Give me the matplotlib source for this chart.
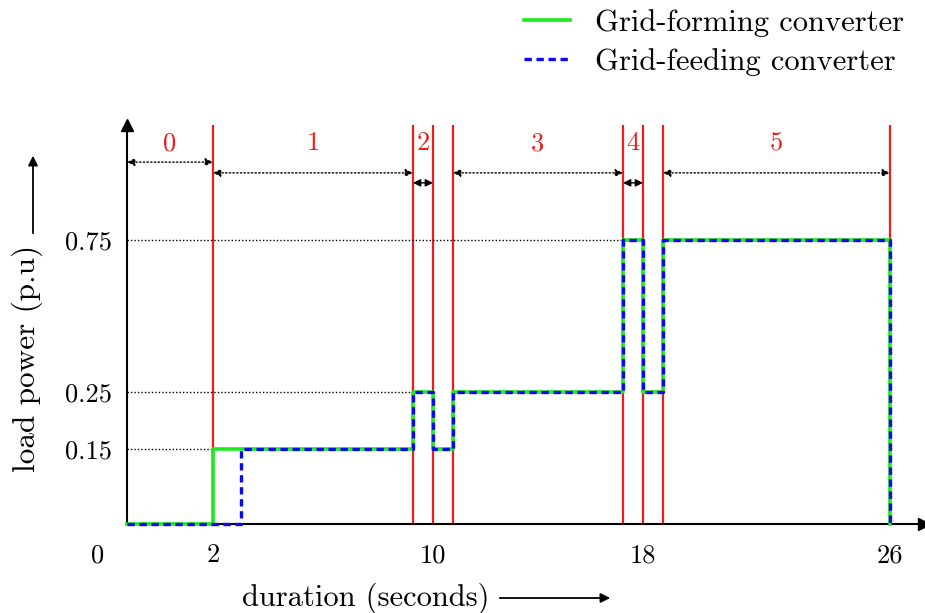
"""Load power steps of grid-forming and grid-feeding converters over the test stages."""

import matplotlib

matplotlib.use("Agg")

import matplotlib.pyplot as plt
import numpy as np
from matplotlib.lines import Line2D

plt.rcParams["font.family"] = "cmr10"
plt.rcParams["mathtext.fontset"] = "cm"
plt.rcParams["axes.formatter.use_mathtext"] = True

# stage boundaries (s) and the load level held after each switching instant
SWITCH_TIMES = [0, 2, 9.6, 10, 10.4, 17.6, 18, 18.4, 26]
LOAD_LEVELS = [0, 0.15, 0.25, 0.15, 0.25, 0.75, 0.25, 0.75, 0]
# the grid-feeding unit picks up the first load step late
FEEDING_TIMES = [0, 3.05, 9.6, 10, 10.4, 17.6, 18, 18.4, 26]

STAGE_LABELS = ["0", "1", "2", "3", "4", "5"]
STAGE_SPANS = [(0, 2), (2, 9.6), (9.6, 10), (10.4, 17.6), (17.6, 18), (18.4, 26)]
STAGE_BOUNDS = [2, 9.6, 10, 10.4, 17.6, 18, 18.4, 26]

X_TICKS = [2, 10, 18, 26]
X_TICK_LABELS = ["2", "10", "18", "26"]
Y_TICKS = [0.15, 0.25, 0.75]
Y_TICK_LABELS = ["0.15", "0.25", "0.75"]
# reference levels and the time at which each is first reached
GUIDE_LEVELS = [0.15, 0.25, 0.75]
GUIDE_ENDS = [2, 9.6, 17.6]

# compressed (schematic) axes: short transients get widened
X_KNOTS_T = np.array([-10, 0, 2, 9.6, 10.4, 17.6, 18.4, 26, 40])
X_KNOTS_P = np.array([-303, 127, 213, 413, 453, 623, 663, 890, 1308])
Y_KNOTS_V = np.array([-1, 0, 0.15, 0.25, 0.75, 1.0, 2])
Y_KNOTS_P = np.array([-500, 0, 75, 132, 284, 399, 900])

GREEN = "#1ee81e"
BLUE = "#0a0af0"
RED = "#ee1c1c"


def fwd_x(t):
    return np.interp(t, X_KNOTS_T, X_KNOTS_P)


def inv_x(p):
    return np.interp(p, X_KNOTS_P, X_KNOTS_T)


def fwd_y(v):
    return np.interp(v, Y_KNOTS_V, Y_KNOTS_P)


def inv_y(p):
    return np.interp(p, Y_KNOTS_P, Y_KNOTS_V)


fig = plt.figure(figsize=(9.25, 6.13), dpi=100)
ax = fig.add_axes([127 / 925, 89 / 613, 797 / 925, 399 / 613])
ax.set_xscale("function", functions=(fwd_x, inv_x))
ax.set_yscale("function", functions=(fwd_y, inv_y))
ax.set_xlim(0, inv_x(924))
ax.set_ylim(0, 1.0)

for side in ("top", "right"):
    ax.spines[side].set_visible(False)
for side in ("left", "bottom"):
    ax.spines[side].set_linewidth(1.5)
ax.plot(1, 0, ">k", ms=8, transform=ax.transAxes, clip_on=False)
ax.plot(0, 1, "^k", ms=8, transform=ax.transAxes, clip_on=False)

# stage boundaries
for xb in STAGE_BOUNDS:
    ax.axvline(xb, color=RED, lw=1.6, zorder=1)

# guides to the load levels
for lvl, xe in zip(GUIDE_LEVELS, GUIDE_ENDS):
    ax.hlines(lvl, 0, xe, colors="k", linestyles=(0, (1, 1.5)), lw=1.0, zorder=1)

ax.step(SWITCH_TIMES, LOAD_LEVELS, where="post", color=GREEN, lw=2.6,
        zorder=3, clip_on=False)
ax.step(FEEDING_TIMES, LOAD_LEVELS, where="post", color=BLUE, lw=2.4,
        ls=(0, (2.2, 1.4)), zorder=4, clip_on=False)

ax.set_xticks(X_TICKS, labels=X_TICK_LABELS)
ax.set_yticks(Y_TICKS, labels=Y_TICK_LABELS)
ax.minorticks_off()
ax.tick_params(axis="x", length=0, pad=14, labelsize=19)
ax.tick_params(axis="y", length=0, pad=11, labelsize=19)
ax.annotate("0", xy=(0, 0), xytext=(-21.5, -14), textcoords="offset points",
            ha="center", va="top", fontsize=19)

# stage numbers and their extents
trans = ax.get_xaxis_transform()
for i, (lab, (x0, x1)) in enumerate(zip(STAGE_LABELS, STAGE_SPANS)):
    xm = inv_x((fwd_x(x0) + fwd_x(x1)) / 2)
    ax.text(xm, 0.954, lab, transform=trans, color=RED, fontsize=19,
            ha="center", va="center")
    if i == 0:
        ya, style = 0.907, ":"
    elif x1 - x0 < 1:
        ya, style = 0.855, "-"
    else:
        ya, style = 0.880, ":"
    ax.annotate("", xy=(x1, ya), xytext=(x0, ya), xycoords=trans, textcoords=trans,
                arrowprops=dict(arrowstyle="<|-|>", lw=1.0, ls=style, color="k",
                                shrinkA=0, shrinkB=0, mutation_scale=11))

# axis titles with direction arrows
fig.text(242 / 925, 1 - 598 / 613, "duration (seconds)", fontsize=22,
         ha="left", va="center")
fig.add_artist(matplotlib.patches.FancyArrowPatch(
    (497 / 925, 1 - 598 / 613), (613 / 925, 1 - 598 / 613),
    transform=fig.transFigure, arrowstyle="-|>", mutation_scale=14,
    lw=1.3, color="k"))
fig.text(27 / 925, 1 - 358 / 613, "load power (p.u)", fontsize=22.5,
         rotation=90, ha="center", va="center")
fig.add_artist(matplotlib.patches.FancyArrowPatch(
    (33 / 925, 1 - 236 / 613), (33 / 925, 1 - 153 / 613),
    transform=fig.transFigure, arrowstyle="-|>", mutation_scale=14,
    lw=1.3, color="k"))

handles = [
    Line2D([], [], color=GREEN, lw=2.6),
    Line2D([], [], color=BLUE, lw=2.4, ls=(0, (2.2, 1.4))),
]
fig.legend(handles, ["Grid-forming converter", "Grid-feeding converter"],
           loc="upper right", bbox_to_anchor=(0.99, 1.005), frameon=False,
           fontsize=22, handlelength=1.5, handletextpad=0.8, labelspacing=0.35,
           borderaxespad=0.0)

fig.savefig("out.png", dpi=100)
